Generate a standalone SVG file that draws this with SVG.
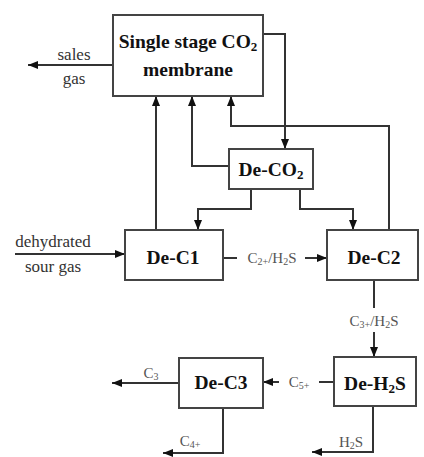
<svg xmlns="http://www.w3.org/2000/svg" width="424" height="457" viewBox="0 0 424 457">
<style>
.box{fill:#fff;stroke:#444;stroke-width:2}
.ln{fill:none;stroke:#333;stroke-width:2}
.bt{font-family:"Liberation Serif","Times New Roman",serif;font-weight:bold;font-size:19.5px;fill:#111;text-anchor:middle}
.lb{font-family:"Liberation Serif","Times New Roman",serif;font-size:17px;fill:#333;text-anchor:middle}
.sm{font-size:15px;fill:#555}
.sb{font-size:10px}
.bs{font-size:13px}
</style>
<defs>
<marker id="ah" markerWidth="10" markerHeight="8" refX="10" refY="4" orient="auto" markerUnits="userSpaceOnUse">
<path d="M0,0 L10,4 L0,8 Z" fill="#111"/>
</marker>
</defs>
<g id="connectors">
<path class="ln" d="M113,65 H28" marker-end="url(#ah)"/>
<path class="ln" d="M15,254 H125" marker-end="url(#ah)"/>
<path class="ln" d="M156,230 V96" marker-end="url(#ah)"/>
<path class="ln" d="M229,166 H192 V96" marker-end="url(#ah)"/>
<path class="ln" d="M263,34 H285 V149" marker-end="url(#ah)"/>
<path class="ln" d="M389,230 V126 H231 V96" marker-end="url(#ah)"/>
<path class="ln" d="M251,189 V209 H198 V230" marker-end="url(#ah)"/>
<path class="ln" d="M300,189 V209 H353 V230" marker-end="url(#ah)"/>
<path class="ln" d="M223,258 H237"/>
<path class="ln" d="M305,258 H327" marker-end="url(#ah)"/>
<path class="ln" d="M374,280 V308"/>
<path class="ln" d="M374,332 V357" marker-end="url(#ah)"/>
<path class="ln" d="M334,382 H319"/>
<path class="ln" d="M279,382 H263" marker-end="url(#ah)"/>
<path class="ln" d="M179,383 H112" marker-end="url(#ah)"/>
<path class="ln" d="M223,408 V453 H163" marker-end="url(#ah)"/>
<path class="ln" d="M373,406 V452 H312" marker-end="url(#ah)"/>
<text class="lb" x="74" y="60">sales</text>
<text class="lb" x="74" y="84">gas</text>
<text class="lb" x="53" y="247">dehydrated</text>
<text class="lb" x="53" y="272">sour gas</text>
<text class="lb sm" x="272" y="263">C<tspan class="sb" dy="2">2+</tspan><tspan dy="-2">/H</tspan><tspan class="sb" dy="2">2</tspan><tspan dy="-2">S</tspan></text>
<text class="lb sm" x="374" y="326">C<tspan class="sb" dy="2">3+</tspan><tspan dy="-2">/H</tspan><tspan class="sb" dy="2">2</tspan><tspan dy="-2">S</tspan></text>
<text class="lb sm" x="299" y="387">C<tspan class="sb" dy="2">5+</tspan></text>
<text class="lb sm" x="151" y="378">C<tspan class="sb" dy="2">3</tspan></text>
<text class="lb sm" x="190" y="446">C<tspan class="sb" dy="2">4+</tspan></text>
<text class="lb sm" x="351" y="447">H<tspan class="sb" dy="2">2</tspan><tspan dy="-2">S</tspan></text>
</g>
<g id="membrane">
<rect class="box" x="113" y="15" width="150" height="81"/>
<text class="bt" x="188" y="48">Single stage CO<tspan class="bs" dy="3">2</tspan></text>
<text class="bt" x="188" y="76">membrane</text>
</g>
<g id="de-co2">
<rect class="box" x="229" y="149" width="84" height="40"/>
<text class="bt" x="271" y="176">De-CO<tspan class="bs" dy="3">2</tspan></text>
</g>
<g id="de-c1">
<rect class="box" x="125" y="230" width="98" height="50"/>
<text class="bt" x="173" y="264">De-C1</text>
</g>
<g id="de-c2">
<rect class="box" x="327" y="230" width="91" height="50"/>
<text class="bt" x="374" y="264">De-C2</text>
</g>
<g id="de-h2s">
<rect class="box" x="334" y="357" width="82" height="49"/>
<text class="bt" x="375" y="390">De-H<tspan class="bs" dy="3">2</tspan><tspan dy="-3">S</tspan></text>
</g>
<g id="de-c3">
<rect class="box" x="179" y="358" width="84" height="50"/>
<text class="bt" x="221" y="389">De-C3</text>
</g>
</svg>
